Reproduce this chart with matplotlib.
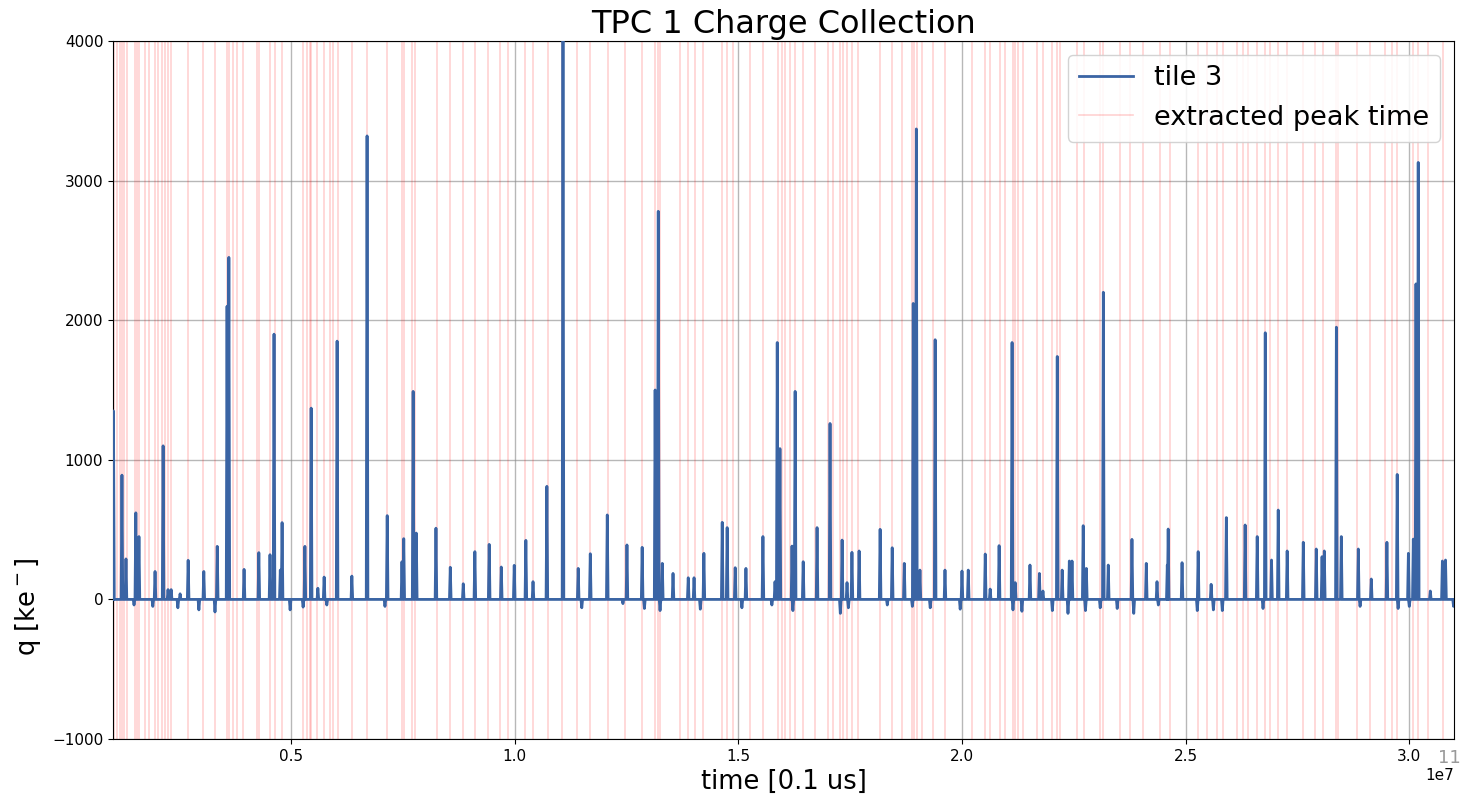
import matplotlib
matplotlib.use("Agg")
import matplotlib.pyplot as plt
import numpy as np

# ---- data (time in units of 1e7 x 0.1 us) ----
peak_times = [0.103, 0.122, 0.131, 0.153, 0.160, 0.196, 0.214, 0.225, 0.232, 0.252,
              0.270, 0.305, 0.335, 0.357, 0.361, 0.395, 0.428, 0.453, 0.462, 0.476,
              0.480, 0.531, 0.545, 0.560, 0.574, 0.603, 0.636, 0.670, 0.715, 0.748,
              0.752, 0.773, 0.780, 0.824, 0.856, 0.885, 0.911, 0.943, 0.970, 0.999,
              1.025, 1.041, 1.072, 1.108, 1.142, 1.169, 1.207, 1.251, 1.285, 1.314,
              1.321, 1.330, 1.354, 1.388, 1.401, 1.423, 1.464, 1.475, 1.493, 1.517,
              1.555, 1.582, 1.587, 1.593, 1.620, 1.627, 1.645, 1.676, 1.705, 1.732,
              1.743, 1.754, 1.770, 1.817, 1.844, 1.871, 1.891, 1.898, 1.906, 1.940,
              1.962, 2.000, 2.014, 2.052, 2.063, 2.083, 2.112, 2.119, 2.152, 2.173,
              2.181, 2.213, 2.224, 2.240, 2.246, 2.271, 2.278, 2.316, 2.327, 2.380,
              2.412, 2.436, 2.459, 2.461, 2.492, 2.528, 2.557, 2.591, 2.633, 2.660,
              2.678, 2.692, 2.707, 2.727, 2.763, 2.792, 2.805, 2.810, 2.837, 2.848,
              2.886, 2.915, 2.950, 2.973, 2.998, 3.009, 3.015, 3.020, 3.047, 3.074,
              3.081]
peak_heights = [1350, 890, 290, 620, 450, 200, 1100, 70, 70, 40,
                280, 200, 380, 2100, 2450, 215, 335, 320, 1900, 210,
                550, 380, 1370, 80, 160, 1850, 167, 3320, 600, 270,
                435, 1490, 475, 510, 230, 112, 342, 394, 232, 244,
                423, 127, 810, 4100, 222, 327, 605, 390, 373, 1500,
                2780, 258, 186, 155, 155, 330, 552, 514, 227, 222,
                450, 127, 1840, 1080, 382, 1490, 270, 514, 1260, 425,
                120, 337, 347, 502, 370, 258, 2120, 3370, 210, 1860,
                210, 203, 210, 325, 74, 385, 1840, 120, 246, 186,
                60, 1740, 210, 275, 275, 528, 222, 2200, 246, 430,
                258, 127, 246, 504, 263, 342, 108, 586, 533, 450,
                1910, 282, 640, 347, 409, 361, 306, 347, 1950, 450,
                361, 146, 409, 895, 330, 432, 2260, 3130, 60, 275,
                282]

dip_times = [0.149, 0.191, 0.247, 0.294, 0.330, 0.498, 0.527, 0.580, 0.710, 1.150,
             1.242, 1.290, 1.325, 1.415, 1.508, 1.575, 1.622, 1.728, 1.746, 1.833,
             1.889, 1.929, 1.996, 2.114, 2.134, 2.202, 2.237, 2.276, 2.309, 2.347,
             2.384, 2.439, 2.526, 2.562, 2.582, 2.673, 2.890, 2.975, 3.000, 3.099]
dip_depths = [-40, -50, -60, -75, -90, -75, -55, -40, -50, -60,
              -30, -65, -80, -70, -60, -40, -80, -100, -60, -40,
              -50, -60, -70, -75, -85, -80, -100, -80, -60, -65,
              -100, -40, -80, -75, -80, -65, -50, -65, -50, -50]

extracted_peak_times = [
    0.104, 0.111, 0.118, 0.122, 0.127, 0.133, 0.151, 0.155, 0.160, 0.174, 0.182,
    0.196, 0.203, 0.212, 0.218, 0.225, 0.232, 0.270, 0.303, 0.330, 0.357, 0.361,
    0.370, 0.379, 0.393, 0.424, 0.428, 0.453, 0.464, 0.480, 0.527, 0.536, 0.542,
    0.545, 0.558, 0.574, 0.587, 0.594, 0.605, 0.636, 0.670, 0.715, 0.748, 0.753,
    0.771, 0.777, 0.826, 0.856, 0.885, 0.911, 0.940, 0.967, 0.985, 1.023, 1.041,
    1.075, 1.106, 1.139, 1.169, 1.209, 1.247, 1.285, 1.314, 1.321, 1.325, 1.370,
    1.388, 1.403, 1.421, 1.464, 1.475, 1.488, 1.526, 1.555, 1.589, 1.598, 1.605,
    1.616, 1.627, 1.645, 1.672, 1.701, 1.712, 1.728, 1.734, 1.743, 1.754, 1.768,
    1.817, 1.844, 1.866, 1.889, 1.893, 1.900, 1.911, 1.936, 1.962, 2.023, 2.052,
    2.063, 2.085, 2.097, 2.114, 2.119, 2.126, 2.137, 2.168, 2.181, 2.202, 2.213,
    2.220, 2.258, 2.272, 2.309, 2.316, 2.354, 2.376, 2.405, 2.443, 2.465, 2.528,
    2.548, 2.571, 2.584, 2.615, 2.629, 2.640, 2.660, 2.678, 2.689, 2.707, 2.727,
    2.763, 2.790, 2.808, 2.837, 2.841, 2.884, 2.913, 2.946, 2.962, 2.973, 3.009,
    3.020, 3.042, 3.076]

x_ticks = [0.5, 1.0, 1.5, 2.0, 2.5, 3.0]
y_ticks = [-1000, 0, 1000, 2000, 3000, 4000]
x_limits = (0.102, 3.100)
y_limits = (-1000, 4000)

# ---- build the trace from the listed spikes ----
half_width = 0.0018
events = sorted(list(zip(peak_times, peak_heights)) + list(zip(dip_times, dip_depths)))
xs, ys = [x_limits[0]], [0.0]
for t, v in events:
    xs += [t - half_width, t, t + half_width]
    ys += [0.0, v, 0.0]
xs.append(x_limits[1])
ys.append(0.0)
xs = np.array(xs) * 1e7
ys = np.array(ys)

fig = plt.figure(figsize=(14.60, 7.96), dpi=100)
ax = fig.add_axes([0.0774, 0.0716, 0.9185, 0.8769])

line_color = '#3a64a4'
ax.plot(xs, ys, color=line_color, lw=2.0, label='tile 3', zorder=3)
for i, t in enumerate(extracted_peak_times):
    ax.axvline(t * 1e7, color='red', alpha=0.18, lw=1.2, zorder=1,
               label='extracted peak time' if i == 0 else None)

ax.set_xlim(x_limits[0] * 1e7, x_limits[1] * 1e7)
ax.set_ylim(*y_limits)
ax.set_xticks([v * 1e7 for v in x_ticks])
ax.set_yticks(y_ticks)
ax.tick_params(labelsize=11)
ax.xaxis.get_offset_text().set_fontsize(11)
ax.grid(True, color='#888888', alpha=0.6, lw=1.0, zorder=0)
ax.set_axisbelow(True)

ax.set_title('TPC 1 Charge Collection', fontsize=23)
ax.set_xlabel('time [0.1 us]', fontsize=18.5)
ax.set_ylabel('q [ke$^-$]', fontsize=18.5)
ax.yaxis.set_label_coords(-0.052, 0.19)

leg = ax.legend(loc='upper right', fontsize=19.5, framealpha=0.85)

fig.text(0.9925, 0.041, '11', color='#999999', fontsize=13, ha='center')

fig.savefig('out.png', dpi=100)
